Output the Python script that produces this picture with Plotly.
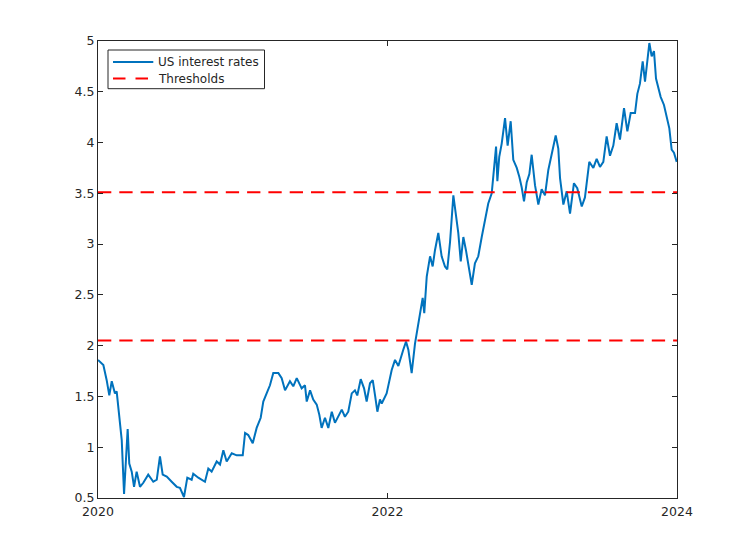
import plotly.graph_objects as go

# US interest rates (x in decimal years)
t = [2020.000, 2020.037, 2020.060, 2020.078, 2020.095, 2020.117, 2020.129, 2020.147, 2020.164, 2020.180,
     2020.193, 2020.205, 2020.216, 2020.233, 2020.249, 2020.267, 2020.290, 2020.313, 2020.347, 2020.382,
     2020.406, 2020.428, 2020.447, 2020.475, 2020.509, 2020.544, 2020.566, 2020.594, 2020.617, 2020.647,
     2020.658, 2020.693, 2020.739, 2020.762, 2020.785, 2020.820, 2020.843, 2020.866, 2020.889, 2020.924,
     2020.958, 2021.000, 2021.016, 2021.038, 2021.069, 2021.096, 2021.124, 2021.142, 2021.165, 2021.188,
     2021.211, 2021.246, 2021.269, 2021.292, 2021.326, 2021.349, 2021.373, 2021.407, 2021.430, 2021.442,
     2021.465, 2021.487, 2021.511, 2021.529, 2021.545, 2021.568, 2021.591, 2021.615, 2021.637, 2021.660,
     2021.684, 2021.706, 2021.729, 2021.753, 2021.775, 2021.791, 2021.815, 2021.838, 2021.856, 2021.879,
     2021.898, 2021.914, 2021.930, 2021.948, 2021.960, 2021.994, 2022.029, 2022.052, 2022.075, 2022.109,
     2022.128, 2022.144, 2022.167, 2022.190, 2022.206, 2022.225, 2022.243, 2022.254, 2022.271, 2022.294,
     2022.312, 2022.328, 2022.351, 2022.374, 2022.397, 2022.413, 2022.432, 2022.455, 2022.473, 2022.489,
     2022.506, 2022.524, 2022.542, 2022.558, 2022.582, 2022.604, 2022.627, 2022.651, 2022.674, 2022.696,
     2022.720, 2022.736, 2022.750, 2022.759, 2022.772, 2022.789, 2022.812, 2022.830, 2022.851, 2022.869,
     2022.893, 2022.911, 2022.927, 2022.943, 2022.962, 2022.980, 2022.996, 2023.019, 2023.042, 2023.065,
     2023.088, 2023.111, 2023.141, 2023.162, 2023.180, 2023.192, 2023.215, 2023.238, 2023.261, 2023.288,
     2023.311, 2023.342, 2023.364, 2023.394, 2023.422, 2023.445, 2023.468, 2023.491, 2023.514, 2023.537,
     2023.560, 2023.583, 2023.606, 2023.634, 2023.657, 2023.680, 2023.710, 2023.726, 2023.744, 2023.763,
     2023.779, 2023.795, 2023.809, 2023.825, 2023.841, 2023.855, 2023.871, 2023.887, 2023.910, 2023.929,
     2023.947, 2023.963, 2023.979, 2023.998]
rate = [1.86, 1.81, 1.66, 1.51, 1.65, 1.53, 1.55, 1.30, 1.07, 0.54,
        0.92, 1.18, 0.84, 0.76, 0.61, 0.76, 0.61, 0.65, 0.73, 0.66,
        0.68, 0.91, 0.73, 0.71, 0.66, 0.61, 0.60, 0.51, 0.70, 0.68,
        0.74, 0.70, 0.66, 0.79, 0.76, 0.86, 0.83, 0.97, 0.86, 0.94,
        0.92, 0.92, 1.14, 1.12, 1.04, 1.19, 1.29, 1.45, 1.53, 1.61,
        1.73, 1.73, 1.68, 1.56, 1.65, 1.60, 1.68, 1.58, 1.61, 1.45,
        1.56, 1.47, 1.42, 1.32, 1.19, 1.29, 1.19, 1.35, 1.24, 1.30,
        1.37, 1.30, 1.35, 1.53, 1.56, 1.51, 1.67, 1.58, 1.45, 1.63,
        1.66, 1.51, 1.35, 1.47, 1.43, 1.53, 1.76, 1.86, 1.80, 1.96,
        2.04, 1.96, 1.73, 2.02, 2.17, 2.35, 2.47, 2.32, 2.68, 2.88,
        2.78, 2.94, 3.11, 2.88, 2.78, 2.75, 3.02, 3.48, 3.30, 3.11,
        2.83, 3.07, 2.94, 2.79, 2.60, 2.81, 2.88, 3.07, 3.24, 3.40,
        3.50, 3.71, 3.96, 3.62, 3.86, 3.99, 4.24, 3.97, 4.21, 3.83,
        3.75, 3.66, 3.56, 3.42, 3.61, 3.69, 3.88, 3.58, 3.39, 3.54,
        3.48, 3.73, 3.94, 4.07, 3.94, 3.65, 3.39, 3.52, 3.30, 3.60,
        3.55, 3.37, 3.46, 3.81, 3.75, 3.84, 3.76, 3.81, 4.06, 3.87,
        3.97, 4.19, 4.03, 4.34, 4.11, 4.29, 4.29, 4.48, 4.58, 4.80,
        4.60, 4.80, 4.98, 4.85, 4.90, 4.63, 4.55, 4.45, 4.37, 4.24,
        4.14, 3.93, 3.90, 3.81]

thresholds = [2.05, 3.51]
x_range = [2020, 2024]
x_ticks = [2020, 2022, 2024]
y_ticks = [0.5, 1, 1.5, 2, 2.5, 3, 3.5, 4, 4.5, 5]
names = ["US interest rates", "Thresholds"]

BLUE = "#0072BD"
RED = "#FF0000"
INK = "#262626"

fig = go.Figure()
fig.add_trace(go.Scatter(x=t, y=rate, mode="lines", name=names[0],
                         line=dict(color=BLUE, width=2)))
for th in thresholds:
    fig.add_trace(go.Scatter(x=x_range, y=[th, th], mode="lines", name=names[1],
                             line=dict(color=RED, width=2, dash="13.3px,8px")))

axis_style = dict(showgrid=False, zeroline=False, showline=True, mirror="ticks",
                  linecolor=INK, linewidth=1, ticks="inside", ticklen=5,
                  tickcolor=INK, tickfont=dict(size=12.5, color=INK))
fig.update_xaxes(range=x_range, tickvals=x_ticks, ticktext=[str(v) for v in x_ticks],
                 ticklabelstandoff=2, **axis_style)
fig.update_yaxes(range=[0.5, 5], tickvals=y_ticks, ticktext=[f"{v:g}" for v in y_ticks], **axis_style)

# MATLAB-style compact legend box (plotly's own legend rows are too tall)
px_l, px_r, px_t, px_b = 98, 677, 41, 498
def fx(p):
    return (p - px_l) / (px_r - px_l)
def fy(p):
    return (px_b - p) / (px_b - px_t)

fig.add_shape(type="rect", xref="paper", yref="paper",
              x0=fx(108), x1=fx(264.5), y0=fy(88.7), y1=fy(50),
              line=dict(color=INK, width=1), fillcolor="white", layer="above")
rows = [(62, BLUE, "solid"), (78.5, RED, "12.5px,10px")]
for (py, col, dash), label in zip(rows, names):
    fig.add_shape(type="line", xref="paper", yref="paper",
                  x0=fx(113), x1=fx(153.3), y0=fy(py), y1=fy(py),
                  line=dict(color=col, width=2, dash=dash), layer="above")
    fig.add_annotation(xref="paper", yref="paper", x=fx(155.5), y=fy(py),
                       xanchor="left", yanchor="middle", text=label, showarrow=False,
                       font=dict(size=12, color=INK))

# page shows the figure 8px in from the top-left corner
fig.update_layout(
    width=747, height=560,
    margin=dict(l=90, r=78, t=33, b=70),
    paper_bgcolor="white", plot_bgcolor="white",
    font=dict(family="DejaVu Sans", size=12, color=INK),
    showlegend=False,
)

fig.write_html("out.html")
